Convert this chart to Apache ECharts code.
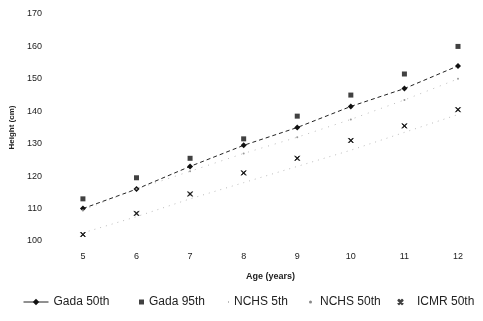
<!DOCTYPE html>
<html>
<head>
<meta charset="utf-8">
<script src="https://cdn.jsdelivr.net/npm/echarts@6/dist/echarts.min.js"></script>
<style>
  html, body {margin: 0; padding: 0; background: #fff;}
  #chart {width: 483px; height: 321px;}
</style>
</head>
<body>
<div id="chart"></div>
<script>
const ages = [5, 6, 7, 8, 9, 10, 11, 12];
const gada50 = [110, 116, 123, 129.5, 135, 141.5, 147, 154];
const gada95 = [113, 119.5, 125.5, 131.5, 138.5, 145, 151.5, 160];
const nchs5 = [102.5, 107.5, 113, 118, 123, 128, 133.5, 139];
const nchs50 = [109.5, 116, 121.5, 127, 132, 137.5, 143.5, 150];
const icmr50 = [102, 108.5, 114.5, 121, 125.5, 131, 135.5, 140.5];
const yTicks = [100, 110, 120, 130, 140, 150, 160, 170];

const pairs = arr => ages.map((a, i) => [a, arr[i]]);
const xMark = 'path://M0,0 L10,10 M10,0 L0,10 M1,0 L10,9 M0,1 L9,10 M0,9 L9,0 M1,10 L10,1';
const font = 'Liberation Sans, Arial, sans-serif';

const chart = echarts.init(document.getElementById('chart'));

// one legend per entry so each can sit where the original puts it
const legendAt = (name, left, w, h, gapText, extra) => Object.assign({
  data: [name],
  top: 291,
  left: left,
  itemWidth: w,
  itemHeight: h,
  textStyle: {fontSize: 12, color: '#222', fontFamily: font, padding: [0, 0, 0, gapText]}
}, extra || {});

chart.setOption({
  animation: false,
  backgroundColor: '#fff',
  grid: {left: 82, right: 25, top: 14, bottom: 80},
  legend: [
    legendAt('Gada 50th', 18, 25, 8, 0, {lineStyle: {type: 'solid', width: 1}}),
    legendAt('Gada 95th', 134, 5, 5, 0),
    legendAt('NCHS 5th', 222, 1, 1, 0, {itemStyle: {color: '#fff', opacity: 0}}),
    legendAt('NCHS 50th', 304, 3, 3, 3, {icon: 'circle', itemStyle: {color: '#888'}}),
    legendAt('ICMR 50th', 392, 5, 5, 9)
  ],
  xAxis: {
    type: 'value',
    min: 5, max: 12, interval: 1,
    name: 'Age (years)',
    nameLocation: 'middle',
    nameGap: 31,
    nameTextStyle: {fontSize: 9, fontWeight: 'bold', color: '#222', fontFamily: font},
    axisLine: {show: false},
    axisTick: {show: false},
    splitLine: {show: false},
    axisLabel: {fontSize: 9, color: '#222', margin: 11, fontFamily: font}
  },
  yAxis: {
    type: 'value',
    min: yTicks[0], max: yTicks[yTicks.length - 1], interval: 10,
    name: 'Height (cm)',
    nameLocation: 'middle',
    nameGap: 64,
    nameTextStyle: {fontSize: 8, fontWeight: 'bold', color: '#222', fontFamily: font},
    axisLine: {show: false},
    axisTick: {show: false},
    splitLine: {show: false},
    axisLabel: {fontSize: 9, color: '#222', margin: 41, fontFamily: font}
  },
  series: [
    {
      name: 'Gada 50th',
      type: 'line',
      data: pairs(gada50),
      symbol: 'diamond',
      symbolSize: 6,
      itemStyle: {color: '#111'},
      lineStyle: {color: '#222', width: 1, type: [4, 3]}
    },
    {
      name: 'Gada 95th',
      type: 'scatter',
      data: pairs(gada95),
      symbol: 'rect',
      symbolSize: 5,
      itemStyle: {color: '#111'}
    },
    {
      name: 'NCHS 5th',
      type: 'line',
      data: pairs(nchs5),
      symbol: 'none',
      itemStyle: {color: '#ddd'},
      lineStyle: {color: '#bbb', width: 1, type: [1, 5]}
    },
    {
      name: 'NCHS 50th',
      type: 'line',
      data: pairs(nchs50),
      symbol: 'circle',
      symbolSize: 2,
      itemStyle: {color: '#999'},
      lineStyle: {color: '#bbb', width: 1, type: [1, 6]}
    },
    {
      name: 'ICMR 50th',
      type: 'scatter',
      data: pairs(icmr50),
      symbol: xMark,
      symbolSize: 5,
      itemStyle: {color: '#111', borderColor: '#111', borderWidth: 1}
    }
  ]
});
</script>
</body>
</html>
